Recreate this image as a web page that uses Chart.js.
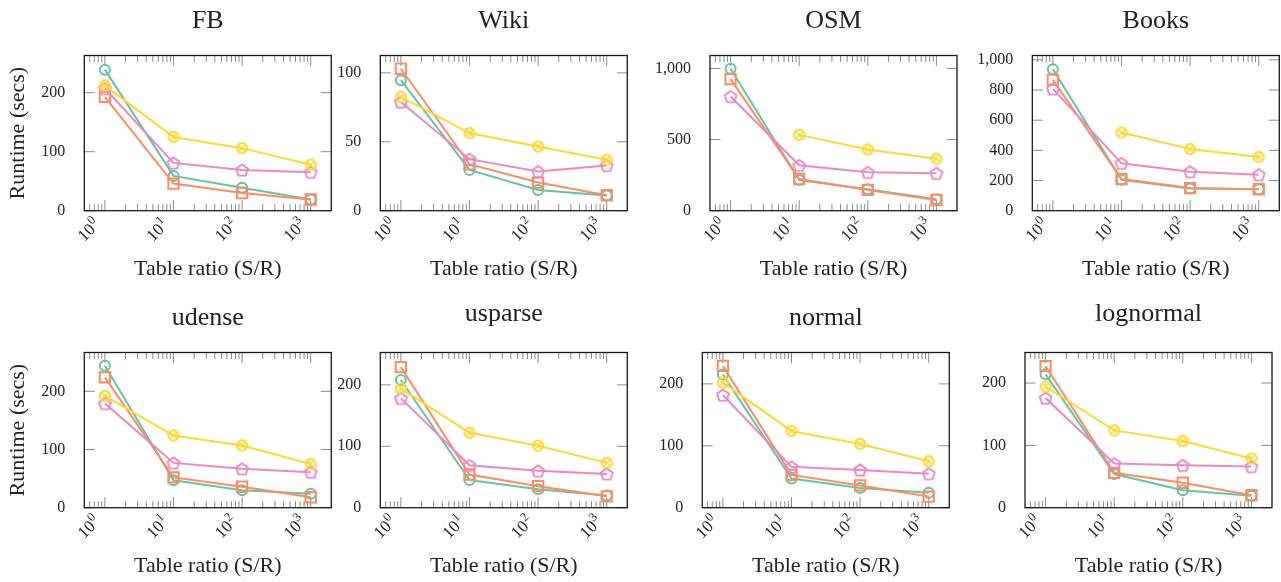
<!DOCTYPE html>
<html><head><meta charset="utf-8">
<script src="https://cdn.jsdelivr.net/npm/chart.js@4/dist/chart.umd.min.js"></script>
<style>
html,body{margin:0;padding:0;background:#fff;}
body{width:1281px;height:582px;position:relative;overflow:hidden;}
canvas{position:absolute;}
</style></head><body>
<script>
// ---------- data ----------
const ratios = [1, 10, 100, 1000];
const xTickValues = [1, 10, 100, 1000];
const xTickBase = '10';
const xTickExponents = ['0', '1', '2', '3'];
const panelTitles = ['FB', 'Wiki', 'OSM', 'Books', 'udense', 'usparse', 'normal', 'lognormal'];
const yMax  = [263, 112.6, 1091, 1029, 266.7, 252.7, 250.7, 249];
const yTickValues = [
  [0, 100, 200],
  [0, 50, 100],
  [0, 500, 1000],
  [0, 200, 400, 600, 800, 1000],
  [0, 100, 200],
  [0, 100, 200],
  [0, 100, 200],
  [0, 100, 200]
];

// one row per panel, in panelTitles order
const greenCircle = [
  [239, 59, 39, 19],
  [94.7, 29.6, 15, 11],
  [998, 216, 150, 80],
  [938, 205, 148, 142],
  [244, 47, 30, 24],
  [208, 45, 30, 20],
  [215, 47, 32, 24],
  [214, 54, 28, 19]
];
const orangeSquare = [
  [193, 46, 30, 19],
  [103, 33.7, 20.4, 11.2],
  [925, 223, 146, 75],
  [867, 210, 150, 142],
  [224, 52, 36, 18],
  [229, 54, 35, 18.5],
  [229, 53, 36, 18],
  [227, 56, 40, 20]
];
const pinkPentagon = [
  [207, 81, 69, 65],
  [78.9, 37.4, 28.4, 32.8],
  [803, 319, 270, 263],
  [808, 314, 259, 239],
  [179, 77, 67, 61],
  [178, 69, 60, 55],
  [182, 66, 61, 55],
  [176, 71, 68, 66]
];
const yellowOtimes = [
  [212, 125, 106, 78],
  [82.5, 56.3, 46.6, 36.9],
  [null, 533, 430, 366],
  [null, 518, 409, 356],
  [192, 124, 107, 75],
  [194, 122, 101, 73],
  [202, 124, 103, 75],
  [194, 124, 107, 79]
];

// ---------- layout / style ----------
const FONT = "'Liberation Serif', 'DejaVu Serif', serif";
const TEXT = '#222';
const GREEN = '#66c2a5', ORANGE = '#fc8d62', PINK = '#e78ac3', YELLOW = '#ffd92f';
const plotLeft = [84.3, 380.3, 710, 1032.3, 84.3, 380.3, 702.3, 1025];
const colCanvasLeft = [0, 338, 648, 962];
const rowCanvasTop = [0, 297];
const plotW = 247, plotH = 155.2, titleH = 55.5, canvasH = 291;
const xAxisH = canvasH - titleH - plotH;
const titleHasDescender = [false, false, false, false, false, true, false, true];

function makeMarker(kind, color) {
  const c = document.createElement('canvas');
  c.width = 16; c.height = 16;
  const g = c.getContext('2d');
  g.strokeStyle = color; g.lineWidth = 1.9; g.lineJoin = 'miter';
  if (kind === 'pentagon') {
    g.beginPath();
    for (let i = 0; i < 5; i++) {
      const a = -Math.PI / 2 + i * 2 * Math.PI / 5;
      const x = 8 + 6.2 * Math.cos(a), y = 8.6 + 6.2 * Math.sin(a);
      if (i) g.lineTo(x, y); else g.moveTo(x, y);
    }
    g.closePath(); g.stroke();
  } else {
    g.beginPath(); g.arc(8, 8, 5.2, 0, 2 * Math.PI); g.stroke();
    const d = 5.2 * Math.SQRT1_2;
    g.lineWidth = 1.5;
    g.beginPath(); g.moveTo(8 - d, 8 - d); g.lineTo(8 + d, 8 + d);
    g.moveTo(8 + d, 8 - d); g.lineTo(8 - d, 8 + d); g.stroke();
  }
  return c;
}
const pentagonImg = makeMarker('pentagon', PINK);
const otimesImg = makeMarker('otimes', YELLOW);

function ds(label, values, color, style, radius, order) {
  return {
    label, order,
    data: ratios.map((x, i) => ({x, y: values[i]})),
    borderColor: color, backgroundColor: 'rgba(0,0,0,0)', borderWidth: 2,
    pointStyle: style, pointRadius: radius, pointHoverRadius: radius,
    pointBorderWidth: 2, pointBorderColor: color, pointBackgroundColor: 'rgba(0,0,0,0)',
    tension: 0, spanGaps: false
  };
}

const framePlugin = {
  id: 'frame',
  beforeDatasetsDraw(chart) {
    const ctx = chart.ctx, a = chart.chartArea, xs = chart.scales.x, ys = chart.scales.y;
    ctx.save();
    ctx.strokeStyle = '#8a8a8a'; ctx.lineWidth = 1;
    ctx.beginPath();
    for (let k = -1; k <= 3; k++) {
      for (let m = 1; m <= 9; m++) {
        const v = m * Math.pow(10, k);
        if (v < xs.min || v > xs.max) continue;
        const px = xs.getPixelForValue(v);
        const len = m === 1 ? 10.5 : 6.5;
        ctx.moveTo(px, a.bottom); ctx.lineTo(px, a.bottom - len);
        ctx.moveTo(px, a.top); ctx.lineTo(px, a.top + len);
      }
    }
    ys.ticks.forEach(t => {
      const py = ys.getPixelForValue(t.value);
      ctx.moveTo(a.left, py); ctx.lineTo(a.left + 10.5, py);
      ctx.moveTo(a.right, py); ctx.lineTo(a.right - 10.5, py);
    });
    ctx.stroke();
    ctx.strokeStyle = '#1a1a1a'; ctx.lineWidth = 1.3;
    ctx.strokeRect(a.left, a.top, a.right - a.left, a.bottom - a.top);
    ctx.restore();
  },
  afterDraw(chart) {
    // rotated "10^k" tick labels with a real superscript
    const ctx = chart.ctx, a = chart.chartArea, xs = chart.scales.x;
    ctx.save();
    ctx.fillStyle = TEXT;
    ctx.textAlign = 'right';
    ctx.textBaseline = 'alphabetic';
    xTickValues.forEach((v, i) => {
      const px = xs.getPixelForValue(v);
      ctx.save();
      ctx.translate(px - 8, a.bottom + 10.5);
      ctx.rotate(-Math.PI / 4);
      ctx.font = '12.5px ' + FONT;
      const ew = ctx.measureText(xTickExponents[i]).width;
      ctx.fillText(xTickExponents[i], 0, -1);
      ctx.font = '17px ' + FONT;
      ctx.fillText(xTickBase, -ew - 0.5, 6);
      ctx.restore();
    });
    ctx.restore();
  }
};

for (let p = 0; p < 8; p++) {
  const col = p % 4, row = Math.floor(p / 4);
  const cLeft = colCanvasLeft[col];
  const yAxisW = plotLeft[p] - cLeft;
  const cWidth = Math.min(Math.ceil(yAxisW + plotW + 2), 1281 - cLeft);
  const rightPad = cWidth - yAxisW - plotW;
  const cv = document.createElement('canvas');
  cv.width = cWidth; cv.height = canvasH;
  cv.style.left = cLeft + 'px'; cv.style.top = rowCanvasTop[row] + 'px';
  cv.style.width = cWidth + 'px'; cv.style.height = canvasH + 'px';
  document.body.appendChild(cv);
  const tPadTop = titleHasDescender[p] ? 1.1 : 5.7;
  const tPadBottom = titleH - 26 * 1.2 - tPadTop;

  new Chart(cv, {
    type: 'line',
    data: {
      datasets: [
        ds('green', greenCircle[p], GREEN, 'circle', 5, 3),
        ds('orange', orangeSquare[p], ORANGE, 'rect', 7.3, 2),
        ds('pink', pinkPentagon[p], PINK, pentagonImg, 6, 1),
        ds('yellow', yellowOtimes[p], YELLOW, otimesImg, 6, 0)
      ]
    },
    options: {
      responsive: false, animation: false, devicePixelRatio: 1,
      layout: {autoPadding: false, padding: {left: 0, right: rightPad, top: 0, bottom: 0}},
      plugins: {
        legend: {display: false}, tooltip: {enabled: false},
        title: {
          display: true, text: panelTitles[p], fullSize: false, color: TEXT,
          font: {family: FONT, size: 26, weight: 'normal', lineHeight: 1.2},
          padding: {top: tPadTop, bottom: tPadBottom}
        }
      },
      scales: {
        x: {
          type: 'logarithmic', min: Math.pow(10, -0.3), max: Math.pow(10, 3.3),
          grid: {display: false}, border: {display: false},
          afterBuildTicks: s => { s.ticks = xTickValues.map(v => ({value: v})); },
          afterFit: s => { s.height = xAxisH; s.paddingLeft = 0; s.paddingRight = 0; },
          ticks: {display: false},
          title: {
            display: true, text: 'Table ratio (S/R)', color: TEXT,
            font: {family: FONT, size: 22, lineHeight: 1.2}, padding: {top: 0, bottom: 8.1}
          }
        },
        y: {
          type: 'linear', min: 0, max: yMax[p],
          grid: {display: false}, border: {display: false},
          afterBuildTicks: s => { s.ticks = yTickValues[p].map(v => ({value: v})); },
          afterFit: s => { s.width = yAxisW; s.paddingTop = 0; s.paddingBottom = 0; },
          ticks: {padding: 11, color: TEXT, font: {family: FONT, size: 16}},
          title: {
            display: col === 0, text: 'Runtime (secs)', color: TEXT,
            font: {family: FONT, size: 22, lineHeight: 1.2}, padding: {top: 5, bottom: 0}
          }
        }
      }
    },
    plugins: [framePlugin]
  });
}
</script>
</body></html>
